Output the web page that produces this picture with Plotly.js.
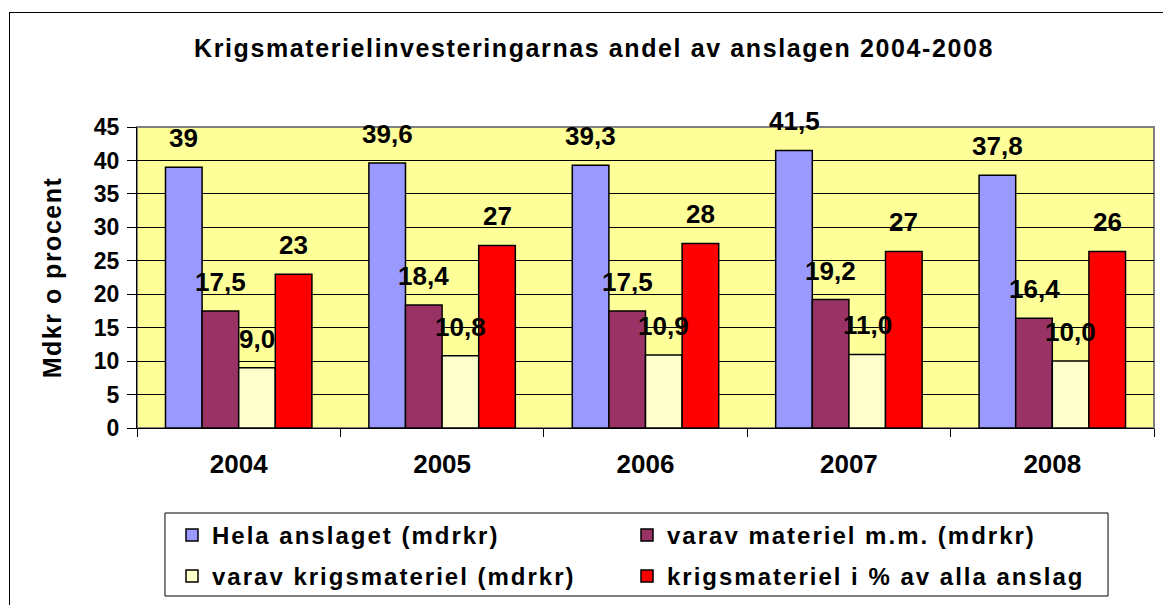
<!DOCTYPE html>
<html>
<head>
<meta charset="utf-8">
<script src="https://cdn.plot.ly/plotly-3.0.1.min.js"></script>
<style>
  html, body { margin: 0; padding: 0; background: #fff; overflow: hidden; width: 1163px; height: 605px; }
  #frame { position: absolute; left: 9px; top: 12px; width: 1200px; height: 620px; border: 1px solid #000; background: #fff; }
  #chart { width: 1200px; height: 620px; }
  #chart .gtitle { letter-spacing: 1.6px; }
  #chart .infolayer [class*="legend"] text { letter-spacing: 2px; }
  #chart .ytitle { letter-spacing: 1.5px; }
</style>
</head>
<body>
<div id="frame"><div id="chart"></div></div>
<script>
const years = ["2004", "2005", "2006", "2007", "2008"];
const helaAnslaget = [39, 39.6, 39.3, 41.5, 37.8];
const varavMateriel = [17.5, 18.4, 17.5, 19.2, 16.4];
const varavKrigsmateriel = [9.0, 10.8, 10.9, 11.0, 10.0];
const krigsmaterielProcent = [23, 27.3, 27.6, 26.4, 26.4];
const krigsmaterielProcentLabels = ["23", "27", "28", "27", "26"];
const seriesNames = [
  "Hela anslaget (mdrkr)",
  "varav materiel m.m. (mdrkr)",
  "varav krigsmateriel (mdrkr)",
  "krigsmateriel i % av alla anslag"
];
const yTicks = [0, 5, 10, 15, 20, 25, 30, 35, 40, 45];

const fmt = v => String(v).replace('.', ',');
const fmt1 = v => v.toFixed(1).replace('.', ',');

const seriesValues = [helaAnslaget, varavMateriel, varavKrigsmateriel, krigsmaterielProcent];
const seriesLabels = [
  helaAnslaget.map(fmt),
  varavMateriel.map(fmt),
  varavKrigsmateriel.map(fmt1),
  krigsmaterielProcentLabels
];
const colors = ["#9999FF", "#993366", "#FFFFCC", "#FF0000"];
const legendOf = ["legend", "legend", "legend2", "legend2"];

const traces = seriesValues.map((vals, i) => ({
  type: "bar",
  name: seriesNames[i],
  x: years,
  y: vals,
  legend: legendOf[i],
  marker: { color: colors[i], line: { color: "#000", width: 1.5 } },
  hoverinfo: "x+y+name"
}));

const barPx = 36.6;
const annotations = [];
seriesValues.forEach((vals, i) => {
  vals.forEach((v, j) => {
    annotations.push({
      x: j, y: v, xref: "x", yref: "y",
      text: seriesLabels[i][j],
      showarrow: false,
      xshift: (i - 1.5) * barPx,
      yshift: 29,
      yanchor: "middle",
      font: { family: "Liberation Sans, Arial, sans-serif", size: 26, color: "#000", weight: "bold" }
    });
  });
});

const legendBase = {
  orientation: "h",
  xref: "container", yref: "container",
  x: 162 / 1200, xanchor: "left",
  yanchor: "top",
  entrywidth: 410,
  borderwidth: 0,
  bgcolor: "rgba(0,0,0,0)",
  font: { size: 24, weight: "bold" },
  traceorder: "normal",
  itemclick: false
};

const layout = {
  width: 1200, height: 620,
  margin: { l: 127, r: 56, t: 114, b: 205, pad: 0 },
  paper_bgcolor: "rgba(0,0,0,0)",
  plot_bgcolor: "#FFFF99",
  font: { family: "Liberation Sans, Arial, sans-serif", color: "#000", weight: "bold" },
  title: {
    text: "<b>Krigsmaterielinvesteringarnas andel av anslagen 2004-2008</b>",
    xref: "container", yref: "container",
    x: 584 / 1200, xanchor: "center",
    y: 1 - 35 / 620, yanchor: "middle",
    font: { size: 25, color: "#000" }
  },
  barmode: "group",
  bargap: 0.28,
  bargroupgap: 0,
  xaxis: {
    type: "category",
    range: [-0.5, 4.5],
    tickson: "boundaries",
    ticks: "outside", ticklen: 8, tickcolor: "#000", tickwidth: 1,
    showline: true, linecolor: "#000", linewidth: 1,
    showgrid: false,
    tickangle: 0,
    tickfont: { size: 26, weight: "bold" },
    ticklabelstandoff: 13
  },
  yaxis: {
    range: [0, 45],
    tickvals: yTicks,
    ticks: "outside", ticklen: 9, tickcolor: "#000", tickwidth: 1,
    showline: true, linecolor: "#000", linewidth: 1,
    showgrid: true, gridcolor: "#000", gridwidth: 1,
    zeroline: false,
    tickfont: { size: 23, weight: "bold" },
    ticklabelstandoff: 3,
    title: { text: "<b>Mdkr o procent</b>", font: { size: 25 }, standoff: 25 }
  },
  showlegend: true,
  legend: Object.assign({}, legendBase, { y: 1 - 500 / 620 }),
  legend2: Object.assign({}, legendBase, { y: 1 - 541 / 620 }),
  shapes: [
    {
      type: "rect", xref: "paper", yref: "paper", x0: 0, x1: 1, y0: 0, y1: 1,
      line: { color: "#808080", width: 2 }, layer: "below"
    },
    {
      type: "rect", xref: "paper", yref: "paper",
      x0: 0.0275, x1: 0.9548, y0: -0.2824, y1: -0.5581,
      line: { color: "#000", width: 1 }, fillcolor: "#fff", layer: "below"
    }
  ],
  annotations: annotations
};

Plotly.newPlot("chart", traces, layout, { displayModeBar: false, staticPlot: true });
</script>
</body>
</html>
